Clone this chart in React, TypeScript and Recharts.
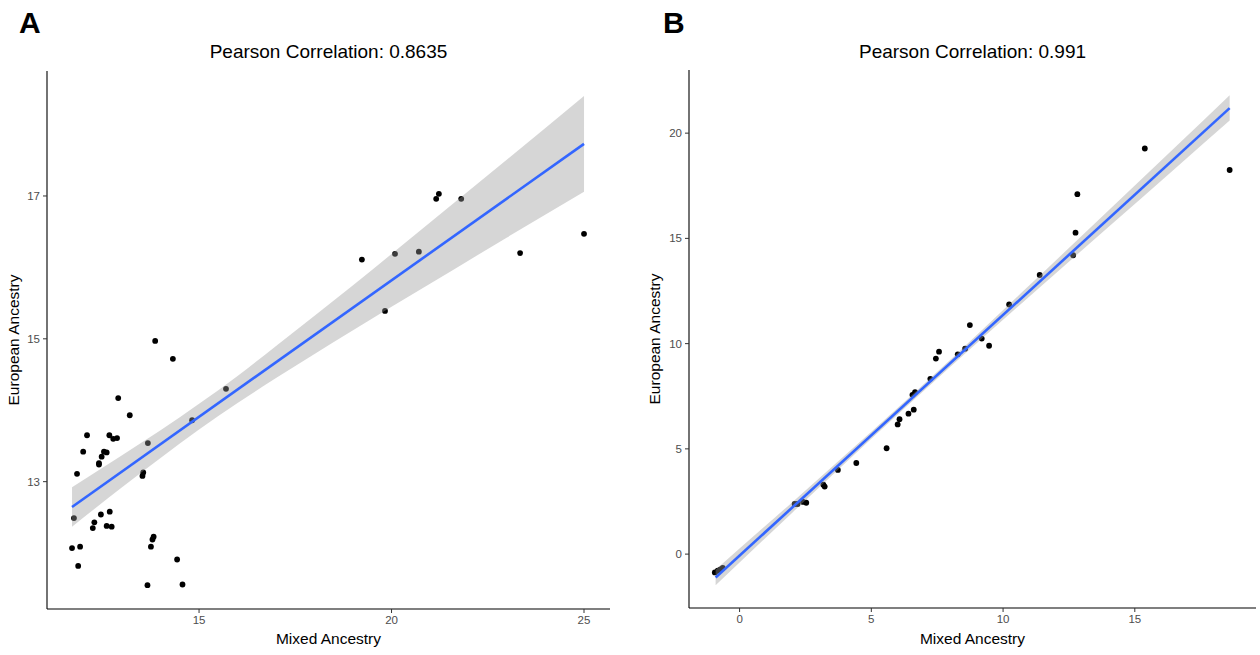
import React from 'react';
import { ComposedChart, Scatter, Line, Area, XAxis, YAxis } from 'recharts';

// Panel A: points
const aX = [11.70, 11.91, 11.86, 11.75, 11.83, 11.99, 12.09, 12.40, 12.40, 12.47, 12.53, 12.60, 12.67, 12.77, 12.87, 12.90, 13.20, 12.45, 12.28, 12.24, 12.60, 12.73, 12.68, 13.55, 13.53, 13.67, 13.75, 13.79, 13.82, 13.66, 14.43, 14.57, 13.86, 14.32, 14.82, 15.70, 19.23, 20.09, 19.83, 20.71, 21.16, 21.23, 21.81, 23.34, 25.00];
const aY = [12.07, 12.09, 11.82, 12.49, 13.11, 13.42, 13.65, 13.26, 13.24, 13.35, 13.42, 13.41, 13.65, 13.60, 13.61, 14.17, 13.93, 12.54, 12.43, 12.35, 12.38, 12.37, 12.58, 13.13, 13.08, 13.54, 12.09, 12.19, 12.23, 11.55, 11.91, 11.56, 14.97, 14.72, 13.86, 14.30, 16.11, 16.19, 15.39, 16.22, 16.96, 17.03, 16.96, 16.20, 16.47];
const aFitX = [11.70, 25.00];
const aFitY = [12.646, 17.73];
const aBandX = [11.7, 13, 14, 15, 16, 17, 19, 21, 23, 25];
const aBandLo = [12.37, 12.92, 13.33, 13.73, 14.10, 14.45, 15.12, 15.77, 16.42, 17.06];
const aBandHi = [12.92, 13.37, 13.72, 14.09, 14.48, 14.90, 15.75, 16.63, 17.51, 18.40];
const aXTicks = [15, 20, 25];
const aYTicks = [13, 15, 17];

// Panel B
const bX = [-0.94, -0.83, -0.73, -0.64, 2.09, 2.20, 2.41, 2.53, 3.18, 3.23, 3.73, 4.43, 5.58, 6.00, 6.07, 6.41, 6.61, 6.56, 6.66, 7.24, 7.45, 7.57, 8.28, 8.56, 9.19, 9.47, 8.74, 10.23, 11.39, 12.66, 12.75, 12.82, 15.38, 18.60];
const bY = [-0.87, -0.79, -0.73, -0.65, 2.38, 2.38, 2.48, 2.44, 3.30, 3.21, 4.00, 4.33, 5.03, 6.16, 6.41, 6.67, 6.86, 7.57, 7.70, 8.33, 9.29, 9.62, 9.49, 9.76, 10.24, 9.90, 10.88, 11.86, 13.26, 14.20, 15.27, 17.10, 19.27, 18.25];
const bFitX = [-0.91, 18.60];
const bFitY = [-1.11, 21.19];
const bBandX = [-0.91, 2, 5, 8, 11, 14, 16.5, 18.6];
const bBandLo = [-1.48, 1.97, 5.48, 8.90, 12.24, 15.54, 18.29, 20.60];
const bBandHi = [-0.74, 2.47, 5.81, 9.24, 12.77, 16.32, 19.29, 21.80];
const bXTicks = [0, 5, 10, 15];
const bYTicks = [0, 5, 10, 15, 20];

const FONT = '"Liberation Sans", Arial, sans-serif';
const tickStyle = { fontSize: 11.5, fill: '#4d4d4d', fontFamily: FONT };

const dot = (p: any) => <circle cx={p.cx} cy={p.cy} r={2.9} fill="#000" />;

interface PanelProps {
  xs: number[]; ys: number[];
  fitX: number[]; fitY: number[];
  bandX: number[]; lo: number[]; hi: number[];
  xDomain: [number, number]; yDomain: [number, number];
  xTicks: number[]; yTicks: number[];
  width: number; marginTop: number; marginRight: number; yWidth: number; xHeight: number;
}

// the ribbon sits on top of the points (as in ggplot), so draw it in a second chart layered above
const Panel: React.FC<PanelProps> = (p) => {
  const points = p.xs.map((x, i) => ({ x, y: p.ys[i] }));
  const fit = p.fitX.map((x, i) => ({ x, y: p.fitY[i] }));
  const band = p.bandX.map((x, i) => ({ x, band: [p.lo[i], p.hi[i]] }));
  const margin = { top: p.marginTop, right: p.marginRight, bottom: 0, left: 0 };
  const axes = (show: boolean) => [
    <XAxis key="x" type="number" dataKey="x" domain={p.xDomain} allowDataOverflow ticks={p.xTicks}
      height={p.xHeight} tick={show ? tickStyle : false} tickSize={4} tickMargin={3}
      axisLine={show ? { stroke: '#000', strokeWidth: 1.1 } : false} tickLine={show ? { stroke: '#333' } : false} />,
    <YAxis key="y" type="number" domain={p.yDomain} allowDataOverflow ticks={p.yTicks}
      width={p.yWidth} tick={show ? tickStyle : false} tickSize={4} tickMargin={3}
      axisLine={show ? { stroke: '#000', strokeWidth: 1.1 } : false} tickLine={show ? { stroke: '#333' } : false} />,
  ];
  return (
    <div style={{ position: 'relative', width: p.width, height: 655 }}>
      <div style={{ position: 'absolute', left: 0, top: 0 }}>
        <ComposedChart width={p.width} height={655} margin={margin}>
          {axes(true)}
          <Scatter data={points} dataKey="y" shape={dot} isAnimationActive={false} />
        </ComposedChart>
      </div>
      <div style={{ position: 'absolute', left: 0, top: 0 }}>
        <ComposedChart width={p.width} height={655} margin={margin}>
          {axes(false)}
          <Area data={band} dataKey="band" type="monotone" stroke="none" fill="#999999" fillOpacity={0.4} isAnimationActive={false} />
          <Line data={fit} dataKey="y" type="linear" stroke="#3366FF" strokeWidth={2.6} dot={false} isAnimationActive={false} />
        </ComposedChart>
      </div>
    </div>
  );
};

const App: React.FC = () => {
  return (
    <div style={{ position: 'absolute', left: 0, top: 0, width: 1260, height: 655, background: '#fff', fontFamily: FONT }}>
      <div style={{ position: 'absolute', left: 0, top: 0 }}>
        <Panel xs={aX} ys={aY} fitX={aFitX} fitY={aFitY} bandX={aBandX} lo={aBandLo} hi={aBandHi}
          xDomain={[11.05, 25.675]} yDomain={[11.217, 18.75]} xTicks={aXTicks} yTicks={aYTicks}
          width={640} marginTop={71} marginRight={30} yWidth={47} xHeight={46} />
      </div>
      <div style={{ position: 'absolute', left: 640, top: 0 }}>
        <Panel xs={bX} ys={bY} fitX={bFitX} fitY={bFitY} bandX={bBandX} lo={bBandLo} hi={bBandHi}
          xDomain={[-1.92, 19.6]} yDomain={[-2.56, 23.0]} xTicks={bXTicks} yTicks={bYTicks}
          width={620} marginTop={70} marginRight={4} yWidth={49} xHeight={47} />
      </div>
      <svg width={1260} height={655} style={{ position: 'absolute', left: 0, top: 0, pointerEvents: 'none' }}>
        <g fontFamily={FONT} fill="#000">
          <text x={19} y={33} fontSize={30} fontWeight="bold">A</text>
          <text x={663} y={33} fontSize={30} fontWeight="bold">B</text>
          <text x={328.5} y={58} fontSize={19} textAnchor="middle">Pearson Correlation: 0.8635</text>
          <text x={972.5} y={58} fontSize={19} textAnchor="middle">Pearson Correlation: 0.991</text>
          <text x={328.5} y={644} fontSize={15.5} textAnchor="middle">Mixed Ancestry</text>
          <text x={972.5} y={644} fontSize={15.5} textAnchor="middle">Mixed Ancestry</text>
          <text transform="translate(18.5,340) rotate(-90)" fontSize={15.5} textAnchor="middle">European Ancestry</text>
          <text transform="translate(660,339) rotate(-90)" fontSize={15.5} textAnchor="middle">European Ancestry</text>
        </g>
      </svg>
    </div>
  );
};

export default App;
